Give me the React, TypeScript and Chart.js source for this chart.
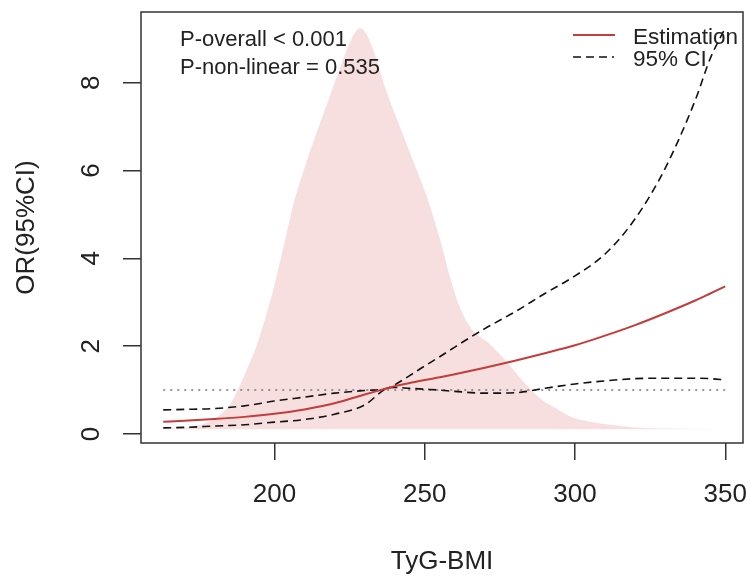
import { useEffect, useRef } from 'react';
import { Chart, registerables } from 'chart.js';

Chart.register(...registerables);

// ---- data ----
const xGrid = [163, 170, 180, 190, 200, 210, 220, 230, 237.5, 240, 245, 250, 255, 260, 270, 280, 290, 300, 310, 320, 330, 340, 345, 350];
const estimate = [0.28, 0.30, 0.34, 0.39, 0.46, 0.56, 0.70, 0.90, 1.04, 1.09, 1.16, 1.23, 1.29, 1.36, 1.51, 1.67, 1.84, 2.02, 2.24, 2.48, 2.75, 3.04, 3.20, 3.36];
const upperCI = [0.55, 0.56, 0.58, 0.64, 0.75, 0.84, 0.93, 0.99, 1.04, 1.12, 1.33, 1.55, 1.76, 1.98, 2.40, 2.78, 3.20, 3.60, 4.10, 4.90, 6.05, 7.60, 8.55, 9.25];
const lowerCI = [0.14, 0.15, 0.18, 0.21, 0.27, 0.33, 0.45, 0.66, 1.04, 1.06, 1.04, 1.02, 1.00, 0.97, 0.93, 0.94, 1.04, 1.14, 1.21, 1.26, 1.27, 1.27, 1.26, 1.23];

const densityX = [163, 170, 176, 181, 185, 188.5, 191, 194, 197, 199.5, 202.8, 206.2, 210.7, 215, 219, 222.8, 225.5, 228.4, 230.5, 232.7, 237.3, 241.7, 246, 249, 251.7, 254, 256, 258.3, 261.6, 266, 271.6, 277, 282.6, 288, 293.8, 299, 305, 310.5, 321.5, 335, 349.7];
const densityY = [0.11, 0.14, 0.22, 0.39, 0.65, 1.1, 1.5, 2.0, 2.65, 3.25, 4.2, 5.2, 6.2, 7.05, 7.8, 8.52, 8.98, 9.24, 9.12, 8.78, 7.8, 7.0, 6.24, 5.72, 5.2, 4.68, 4.2, 3.6, 2.9, 2.36, 2.05, 1.67, 1.21, 0.83, 0.58, 0.38, 0.28, 0.22, 0.14, 0.12, 0.11];
const densityBase = 0.107;

const refX = [163, 350];
const refY = [1, 1];

const xTicks = [200, 250, 300, 350];
const yTicks = [0, 2, 4, 6, 8];
const xTitle = 'TyG-BMI';
const yTitle = 'OR(95%CI)';
const pTexts = ['P-overall < 0.001', 'P-non-linear = 0.535'];
const legendLabels = ['Estimation', '95% CI'];

const FONT = '"Liberation Sans", Arial, sans-serif';
const RED = '#c43c3c';
const PINK = '#f7dfdf';
const TEXT = '#222222';

const pts = (xs: number[], ys: number[]) => xs.map((x, i) => ({ x, y: ys[i] }));

const zeroPad = (scale: any) => {
  scale.paddingTop = 0;
  scale.paddingBottom = 0;
  scale.paddingLeft = 0;
  scale.paddingRight = 0;
};

const overlayPlugin = {
  id: 'overlay',
  afterDraw(chart: any) {
    const { ctx, chartArea } = chart;
    ctx.save();
    // box
    ctx.strokeStyle = '#333333';
    ctx.lineWidth = 1.5;
    ctx.setLineDash([]);
    ctx.strokeRect(chartArea.left, chartArea.top, chartArea.right - chartArea.left, chartArea.bottom - chartArea.top);

    // p-value texts
    ctx.fillStyle = TEXT;
    ctx.font = `22px ${FONT}`;
    ctx.textAlign = 'left';
    ctx.textBaseline = 'alphabetic';
    ctx.fillText(pTexts[0], 180, 46);
    ctx.fillText(pTexts[1], 180, 74);

    // legend
    ctx.strokeStyle = RED;
    ctx.lineWidth = 2;
    ctx.beginPath();
    ctx.moveTo(573, 35);
    ctx.lineTo(615, 35);
    ctx.stroke();
    ctx.strokeStyle = '#111111';
    ctx.lineWidth = 1.6;
    ctx.setLineDash([8, 5]);
    ctx.beginPath();
    ctx.moveTo(573, 57);
    ctx.lineTo(614, 57);
    ctx.stroke();
    ctx.setLineDash([]);
    ctx.font = `22.5px ${FONT}`;
    ctx.fillText(legendLabels[0], 633, 44);
    ctx.fillText(legendLabels[1], 633, 66);
    ctx.restore();
  },
};

export default function App() {
  const ref = useRef<HTMLCanvasElement | null>(null);

  useEffect(() => {
    if (!ref.current) return;
    const chart = new Chart(ref.current, {
      type: 'line',
      data: {
        datasets: [
          {
            label: 'Estimation',
            data: pts(xGrid, estimate),
            borderColor: RED,
            borderWidth: 2,
            pointRadius: 0,
            cubicInterpolationMode: 'monotone',
            fill: false,
            order: 0,
          },
          {
            label: 'Upper 95% CI',
            data: pts(xGrid, upperCI),
            borderColor: '#111111',
            borderWidth: 1.6,
            borderDash: [8, 5],
            pointRadius: 0,
            cubicInterpolationMode: 'monotone',
            fill: false,
            order: 1,
          },
          {
            label: 'Lower 95% CI',
            data: pts(xGrid, lowerCI),
            borderColor: '#111111',
            borderWidth: 1.6,
            borderDash: [8, 5],
            pointRadius: 0,
            cubicInterpolationMode: 'monotone',
            fill: false,
            order: 1,
          },
          {
            label: 'Reference',
            data: pts(refX, refY),
            borderColor: '#777777',
            borderWidth: 1.5,
            borderDash: [2, 5],
            pointRadius: 0,
            fill: false,
            order: 2,
          },
          {
            label: 'Density',
            data: pts(densityX, densityY),
            borderColor: 'rgba(0,0,0,0)',
            borderWidth: 0,
            backgroundColor: PINK,
            pointRadius: 0,
            cubicInterpolationMode: 'monotone',
            fill: { value: densityBase },
            order: 3,
          },
        ],
      } as any,
      options: {
        animation: false,
        responsive: true,
        maintainAspectRatio: false,
        layout: { padding: { top: 12, right: 4, left: 0, bottom: 0 } },
        plugins: {
          legend: { display: false },
          tooltip: { enabled: false },
        },
        scales: {
          x: {
            type: 'linear',
            min: 155.6,
            max: 355.9,
            afterBuildTicks: (scale: any) => {
              scale.ticks = xTicks.map((v) => ({ value: v }));
            },
            afterFit: (scale: any) => {
              scale.height = 134;
              zeroPad(scale);
            },
            border: { display: false },
            grid: {
              drawOnChartArea: false,
              drawTicks: true,
              tickLength: 17,
              tickColor: '#333333',
              lineWidth: 1.5,
            },
            ticks: {
              color: TEXT,
              font: { family: FONT, size: 26 },
              padding: 19,
              maxRotation: 0,
              minRotation: 0,
              callback: (v: any) => String(v),
            },
            title: {
              display: true,
              text: xTitle,
              color: TEXT,
              font: { family: FONT, size: 26 },
              padding: { top: 0, bottom: 0 },
            },
          },
          y: {
            type: 'linear',
            min: -0.205,
            max: 9.61,
            afterBuildTicks: (scale: any) => {
              scale.ticks = yTicks.map((v) => ({ value: v }));
            },
            afterFit: (scale: any) => {
              scale.width = 141;
              zeroPad(scale);
            },
            border: { display: false },
            grid: {
              drawOnChartArea: false,
              drawTicks: true,
              tickLength: 18,
              tickColor: '#333333',
              lineWidth: 1.5,
            },
            ticks: {
              color: TEXT,
              font: { family: FONT, size: 26 },
              minRotation: 90,
              maxRotation: 90,
              crossAlign: 'center',
              padding: 24,
              callback: (v: any) => String(v),
            },
            title: {
              display: true,
              text: yTitle,
              color: TEXT,
              font: { family: FONT, size: 26 },
              padding: { top: 11, bottom: 0 },
            },
          },
        },
      } as any,
      plugins: [overlayPlugin],
    });
    return () => chart.destroy();
  }, []);

  return (
    <div style={{ position: 'fixed', left: 0, top: 0, width: 747, height: 577, background: '#ffffff' }}>
      <canvas ref={ref} />
    </div>
  );
}
